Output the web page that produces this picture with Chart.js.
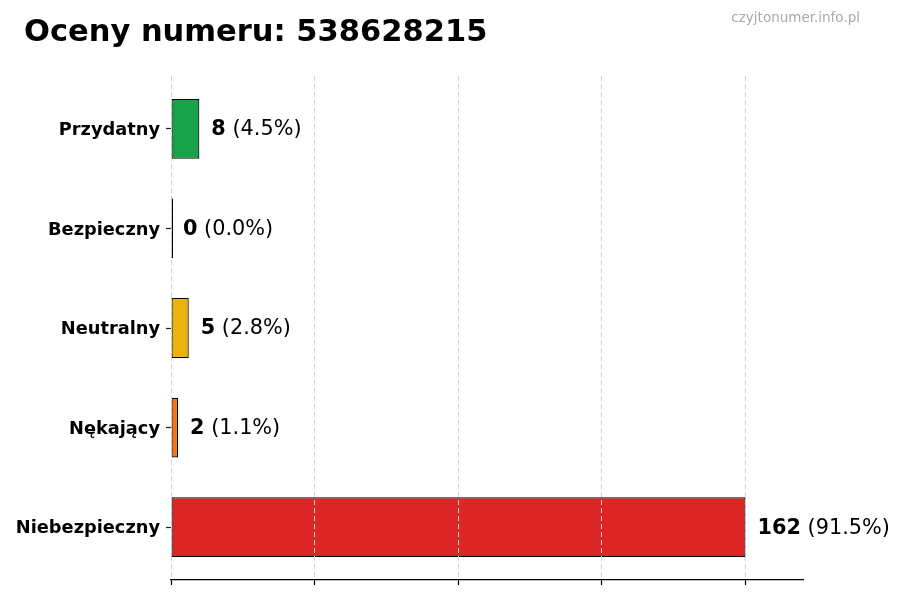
<!DOCTYPE html>
<html lang="pl">
<head>
<meta charset="utf-8">
<title>Oceny numeru: 538628215</title>
<script src="https://cdn.jsdelivr.net/npm/chart.js@4.4.1/dist/chart.umd.min.js"></script>
<style>
    html, body { margin: 0; padding: 0; background: #ffffff; }
    #wrap { width: 900px; height: 600px; position: relative; }
</style>
</head>
<body>
<div id="wrap"><canvas id="ratingsChart"></canvas></div>
<script>
// Oceny numeru - poziomy wykres słupkowy
const titleText = 'Oceny numeru: 538628215';
const watermarkText = 'czyjtonumer.info.pl';

const categories = ['Przydatny', 'Bezpieczny', 'Neutralny', 'Nękający', 'Niebezpieczny'];
const counts = [8, 0, 5, 2, 162];
const percents = ['4.5', '0.0', '2.8', '1.1', '91.5'];
const barColors = ['#16a34a', '#333333', '#eab308', '#f97316', '#dc2626'];
const xTickValues = [0, 40.5, 81, 121.5, 162];
const xMax = 178.2;
const yMin = -0.53;
const yMax = 4.53;

const FONT = "'DejaVu Sans', sans-serif";

// title + watermark drawn at top of canvas
const headerPlugin = {
    id: 'header',
    afterDraw(chart) {
        const ctx = chart.ctx;
        ctx.save();
        ctx.fillStyle = '#000000';
        ctx.font = 'bold 30.5px ' + FONT;
        ctx.textAlign = 'left';
        ctx.textBaseline = 'alphabetic';
        ctx.fillText(titleText, 24, 41);

        ctx.fillStyle = '#aaaaaa';
        ctx.font = '13.5px ' + FONT;
        ctx.textAlign = 'right';
        ctx.fillText(watermarkText, 860, 22);
        ctx.restore();
    }
};

// "8 (4.5%)" labels at the end of each bar
const valueLabelPlugin = {
    id: 'valueLabels',
    afterDatasetsDraw(chart) {
        const ctx = chart.ctx;
        const meta = chart.getDatasetMeta(0);
        const xScale = chart.scales.x;
        ctx.save();
        ctx.fillStyle = '#000000';
        ctx.textBaseline = 'middle';
        ctx.textAlign = 'left';
        meta.data.forEach((bar, i) => {
            const endX = xScale.getPixelForValue(counts[i]);
            let x = endX + 12;
            const y = bar.y + 1;
            ctx.font = 'bold 20.8px ' + FONT;
            const num = String(counts[i]);
            ctx.fillText(num, x, y);
            x += ctx.measureText(num).width;
            ctx.font = '20.8px ' + FONT;
            ctx.fillText(' (' + percents[i] + '%)', x, y);
        });
        ctx.restore();
    }
};

new Chart(document.getElementById('ratingsChart'), {
    type: 'bar',
    data: {
        datasets: [{
            data: counts.map((v, i) => ({ x: v, y: i })),
            backgroundColor: barColors,
            borderColor: '#000000',
            borderWidth: 1.2,
            borderSkipped: false,
            minBarLength: 2,
            barPercentage: 0.6,
            categoryPercentage: 1.0
        }]
    },
    options: {
        indexAxis: 'y',
        responsive: true,
        maintainAspectRatio: false,
        animation: false,
        devicePixelRatio: 1,
        layout: { padding: { top: 76, right: 97, bottom: 0, left: 0 } },
        plugins: {
            legend: { display: false },
            title: { display: false },
            tooltip: { enabled: false }
        },
        scales: {
            x: {
                type: 'linear',
                min: 0,
                max: xMax,
                afterBuildTicks: (scale) => {
                    scale.ticks = xTickValues.map(v => ({ value: v }));
                },
                afterFit: (scale) => { scale.height = 20; },
                ticks: { display: false },
                grid: {
                    display: true,
                    drawOnChartArea: true,
                    drawTicks: true,
                    color: '#d4d4d4',
                    lineWidth: 1,
                    tickColor: '#000000',
                    tickWidth: 1.2,
                    tickLength: 5,
                    z: 1
                },
                // in v4 border.dash styles the grid lines
                border: { display: true, color: '#000000', width: 1.2, dash: [5, 3], z: 2 }
            },
            y: {
                type: 'linear',
                reverse: true,
                offset: false,
                min: yMin,
                max: yMax,
                afterBuildTicks: (scale) => {
                    scale.ticks = categories.map((c, i) => ({ value: i }));
                },
                afterFit: (scale) => { scale.width = 171; },
                ticks: {
                    autoSkip: false,
                    color: '#000000',
                    padding: 6,
                    labelOffset: 1.5,
                    font: { family: FONT, size: 17.8, weight: 'bold' },
                    callback: (v) => categories[v]
                },
                grid: {
                    display: true,
                    offset: false,
                    drawOnChartArea: false,
                    drawTicks: true,
                    tickColor: '#222222',
                    tickWidth: 1.2,
                    tickLength: 5
                },
                border: { display: false }
            }
        }
    },
    plugins: [headerPlugin, valueLabelPlugin]
});
</script>
</body>
</html>
